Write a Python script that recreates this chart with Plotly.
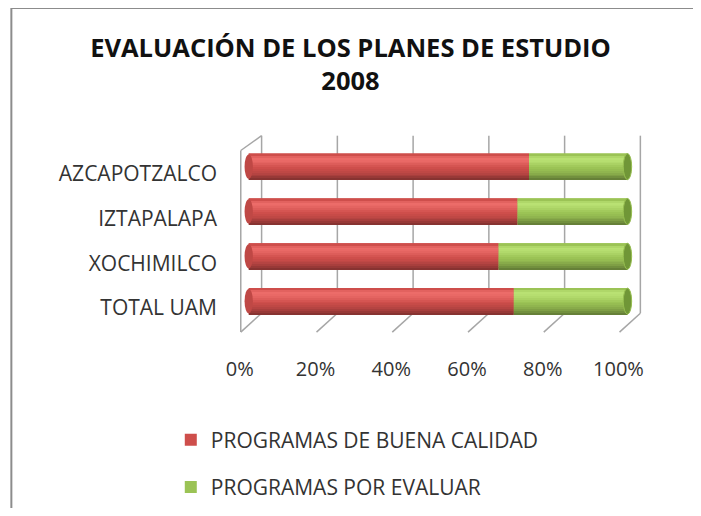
import plotly.graph_objects as go

# data (percent of programs)
categorias = ['AZCAPOTZALCO', 'IZTAPALAPA', 'XOCHIMILCO', 'TOTAL UAM']
buena_calidad = [74, 71, 66, 70]
por_evaluar = [26, 29, 34, 30]
ticks_x = [0, 20, 40, 60, 80, 100]

orden = categorias[::-1]  # TOTAL UAM at the bottom
FONT = 'Open Sans'

rojo = (206, 78, 75)
verde = (155, 195, 85)
# shading profile across the cylinder, bottom -> top
perfil = [0.66, 0.74, 0.82, 0.88, 0.93, 0.97, 1.0, 1.03, 1.06, 1.09, 1.11, 1.12, 1.08, 1.0]
ancho = 0.58


def tono(c, f):
    lift = max(0.0, f - 1.0) * 250
    return 'rgb(%d,%d,%d)' % tuple(max(0, min(255, int(v * min(f, 1.0) + lift))) for v in c)


fig = go.Figure()

series = [('PROGRAMAS DE BUENA CALIDAD', buena_calidad, [0] * 4, rojo, 'a'),
          ('PROGRAMAS POR EVALUAR', por_evaluar, buena_calidad, verde, 'b')]

for nombre, vals, base, col, grp in series:
    fig.add_trace(go.Bar(
        y=categorias, x=vals, base=base, orientation='h', name=nombre,
        width=ancho, marker=dict(color=tono(col, 1.0), line=dict(width=0)),
        legendgroup=grp))
    n = len(perfil)
    w = ancho / n
    for i, f in enumerate(perfil):
        fig.add_trace(go.Bar(
            y=categorias, x=vals, base=base, orientation='h', showlegend=False,
            width=w * 1.05, offset=-ancho / 2 + i * w, hoverinfo='skip',
            marker=dict(color=tono(col, f), line=dict(width=0)),
            legendgroup=grp))

shapes = []
# back wall grid (3D look)
for t in ticks_x:
    xb = t + 3.4
    shapes.append(dict(type='line', xref='x', yref='y', x0=xb, x1=xb, y0=-0.27, y1=3.69,
                       line=dict(color='#a6a6a6', width=1.5), layer='below'))
    shapes.append(dict(type='line', xref='x', yref='y', x0=xb, x1=t - 2.1, y0=-0.27, y1=-0.69,
                       line=dict(color='#a6a6a6', width=1.5), layer='below'))
shapes.append(dict(type='line', xref='x', yref='y', x0=-2.1, x1=-2.1, y0=-0.69, y1=3.36,
                   line=dict(color='#a6a6a6', width=1.5), layer='below'))
shapes.append(dict(type='line', xref='x', yref='y', x0=-2.1, x1=3.4, y0=3.36, y1=3.69,
                   line=dict(color='#a6a6a6', width=1.5), layer='below'))

# cylinder ends
for cat, b, p in zip(categorias, buena_calidad, por_evaluar):
    k = orden.index(cat)
    shapes.append(dict(type='circle', xref='x', yref='y', x0=-1.1, x1=1.1,
                       y0=k - ancho / 2 + 0.02, y1=k + ancho / 2 - 0.02,
                       fillcolor=tono(rojo, 0.93), line=dict(width=0)))
    tot = b + p
    shapes.append(dict(type='circle', xref='x', yref='y', x0=tot - 1.1, x1=tot + 1.1,
                       y0=k - ancho / 2, y1=k + ancho / 2,
                       fillcolor='rgb(112,150,55)', line=dict(color='rgb(150,190,80)', width=1)))

# picture frame (left and top edges)
shapes.append(dict(type='line', xref='paper', yref='paper', x0=-0.5015, x1=1.2, y0=1.6126, y1=1.6126,
                   line=dict(color='#8c8c8c', width=2)))
shapes.append(dict(type='line', xref='paper', yref='paper', x0=-0.5015, x1=-0.5015, y0=1.6126, y1=-1.0,
                   line=dict(color='#8c8c8c', width=2)))

fig.update_layout(
    width=685, height=500,
    margin=dict(l=218.3, r=38.5, t=125.4, b=171.2, autoexpand=False),
    barmode='overlay',
    paper_bgcolor='white', plot_bgcolor='white',
    font=dict(family=FONT, color='#262626'),
    title=dict(text='<b>EVALUACIÓN DE LOS PLANES DE ESTUDIO<br>2008</b>',
               x=0.5, xref='container', xanchor='center',
               y=0.9026, yref='container', yanchor='top',
               font=dict(family=FONT, size=25.5, color='#111111')),
    xaxis=dict(range=[-6, 107], tickvals=ticks_x, ticktext=['%d%%' % t for t in ticks_x],
               showgrid=False, zeroline=False, showline=False, ticks='',
               tickfont=dict(size=20, color='#333333'),
               ticklabelstandoff=18, ticklabelshift=-9),
    yaxis=dict(categoryorder='array', categoryarray=orden, range=[-0.8, 3.75],
               showgrid=False, zeroline=False, showline=False, ticks='',
               tickfont=dict(size=21, color='#333333'),
               ticklabelstandoff=8, ticklabelshift=7),
    legend=dict(x=-0.129, xanchor='left', y=-0.405, yanchor='top',
                font=dict(family=FONT, size=21, color='#333333'),
                tracegroupgap=17, itemwidth=30, bgcolor='rgba(0,0,0,0)'),
    shapes=shapes,
    showlegend=True,
)

fig.write_html('out.html')
